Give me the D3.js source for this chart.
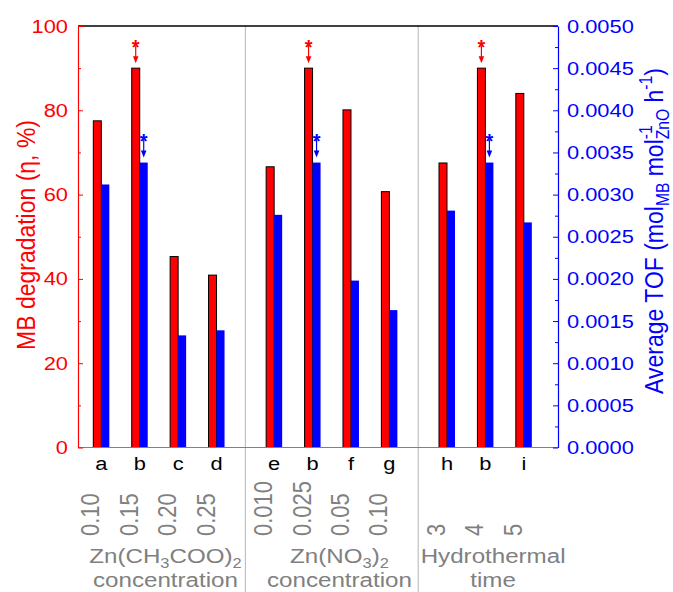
<!DOCTYPE html>
<html lang="en">
<head>
  <meta charset="utf-8">
  <title>MB degradation and TOF</title>
  <script src="https://cdn.jsdelivr.net/npm/d3@7"></script>
  <style>
    body { margin: 0; background: #fff; }
    text { font-family: "Liberation Sans", Arial, sans-serif; }
  </style>
</head>
<body>
  <div id="chart"></div>
<script>
  var w = 673, h = 592;
  var SX = 1.15; // the original text is a bit wider than plain Arial

  // data
  var samples = ["a", "b", "c", "d", "e", "b", "f", "g", "h", "b", "i"];
  var positions = [0, 1, 2, 3, 4.5, 5.5, 6.5, 7.5, 9, 10, 11];
  var conditions = ["0.10", "0.15", "0.20", "0.25", "0.010", "0.025", "0.05", "0.10", "3", "4", "5"];
  var degradation = [77.5, 90, 45.3, 40.9, 66.6, 90, 80.1, 60.7, 67.5, 90, 84.0];
  var tof = [0.00312, 0.00338, 0.00133, 0.00139, 0.00276, 0.00338, 0.00198, 0.00163, 0.00281, 0.00338, 0.00267];
  var degTicks = [0, 20, 40, 60, 80, 100];
  var degMinor = [10, 30, 50, 70, 90];
  var tofTicks = [0, 0.0005, 0.001, 0.0015, 0.002, 0.0025, 0.003, 0.0035, 0.004, 0.0045, 0.005];
  var tofMinor = [0.00025, 0.00075, 0.00125, 0.00175, 0.00225, 0.00275, 0.00325, 0.00375, 0.00425, 0.00475];
  var separators = [3.75, 8.25];
  var groupLabels = [["Zn(CH{_3}COO){_2}", "concentration"], ["Zn(NO{_3}){_2}", "concentration"], ["Hydrothermal", "time"]];
  var groupPos = [1.67, 6.2, 10.2];
  var starred = samples.map(function(s) { return s === "b"; });

  // plot box (window.top is read-only, so no "top" here)
  var pL = 78, pR = 558, pT = 26, pB = 447.5;

  var svg = d3.select("#chart").append("svg")
    .attr("width", w).attr("height", h);

  var x = d3.scaleLinear().domain([-0.607, 11.89]).range([pL, pR]);
  var yL = d3.scaleLinear().domain([0, 100]).range([pB, pT]);
  var yR = d3.scaleLinear().domain([0, 0.005]).range([pB, pT]);

  // text with a horizontal stretch, optional rotation and {_sub} / {^sup} parts
  function label(g, px, py, str, size, color, anchor, rot) {
    var t = g.append("text")
      .attr("transform", "translate(" + px + "," + py + ") scale(" + SX + ",1)" + (rot ? " rotate(" + rot + ")" : ""))
      .attr("font-size", size).attr("fill", color).attr("text-anchor", anchor || "middle");
    var re = /\{([_^])([^}]*)\}/g, last = 0, m, off = 0, prev = null, prevKind = null;
    function seg(txt, kind) {
      var target = kind === "_" ? 0.22 * size : kind === "^" ? -0.4 * size : 0;
      var s = t.append("tspan").text(txt).attr("dy", target - off);
      off = target;
      if (kind) s.attr("font-size", size * 0.68);
      if (kind === "_" && prevKind === "^") s.attr("dx", -prev.node().getComputedTextLength());
      prev = s; prevKind = kind;
    }
    while ((m = re.exec(str))) {
      if (m.index > last) seg(str.slice(last, m.index), null);
      seg(m[2], m[1]);
      last = re.lastIndex;
    }
    if (last < str.length) seg(str.slice(last), null);
    return t;
  }

  // separators between the three groups
  svg.selectAll(".sep").data(separators).enter().append("line")
    .attr("class", "sep")
    .attr("x1", function(d) { return x(d); }).attr("x2", function(d) { return x(d); })
    .attr("y1", pT).attr("y2", h)
    .attr("stroke", "#b4b4b4").attr("stroke-width", 1);

  // bars
  svg.selectAll(".red").data(degradation).enter().append("rect")
    .attr("class", "red")
    .attr("x", function(d, i) { return x(positions[i]) - 8; })
    .attr("y", function(d) { return yL(d); })
    .attr("width", 8)
    .attr("height", function(d) { return yL(0) - yL(d); })
    .attr("fill", "#ff0000").attr("stroke", "#000").attr("stroke-width", 1);

  svg.selectAll(".blue").data(tof).enter().append("rect")
    .attr("class", "blue")
    .attr("x", function(d, i) { return x(positions[i]); })
    .attr("y", function(d) { return yR(d); })
    .attr("width", 8)
    .attr("height", function(d) { return yR(0) - yR(d); })
    .attr("fill", "#0000ff");

  // stars with arrows over the best sample
  function star(cx, barTop, color) {
    svg.append("text").attr("x", cx).attr("y", barTop - 14.5).attr("text-anchor", "middle")
      .attr("font-size", 20).attr("font-weight", "bold").attr("fill", color).text("*");
    svg.append("line").attr("x1", cx).attr("x2", cx).attr("y1", barTop - 23).attr("y2", barTop - 9)
      .attr("stroke", color).attr("stroke-width", 1.2);
    svg.append("path")
      .attr("d", "M" + (cx - 2.8) + "," + (barTop - 12) + "L" + (cx + 2.8) + "," + (barTop - 12) + "L" + cx + "," + (barTop - 5) + "Z")
      .attr("fill", color);
  }
  starred.forEach(function(s, i) {
    if (!s) return;
    star(x(positions[i]) - 4, yL(degradation[i]), "#ff0000");
    star(x(positions[i]) + 4, yR(tof[i]), "#0000ff");
  });

  // frame lines
  svg.append("line").attr("x1", pL).attr("x2", pR).attr("y1", pT).attr("y2", pT)
    .attr("stroke", "#000").attr("stroke-width", 1.5);
  svg.append("line").attr("x1", pL).attr("x2", pR).attr("y1", pB).attr("y2", pB)
    .attr("stroke", "#808080").attr("stroke-width", 1.2);

  // axes
  function styleTicks(g, color) {
    g.select(".domain").attr("stroke", color).attr("stroke-width", 1.2);
    g.selectAll(".tick line").attr("stroke", color);
    g.selectAll(".tick text").each(function() {
      var t = d3.select(this), tx = +t.attr("x");
      t.attr("x", 0).attr("transform", "translate(" + tx + ",0) scale(" + SX + ",1)")
        .attr("fill", color).attr("font-size", 19);
    });
  }
  var gl = svg.append("g").attr("transform", "translate(" + pL + ",0)")
    .call(d3.axisLeft(yL).tickValues(degTicks).tickSize(-5).tickSizeOuter(0).tickPadding(10));
  styleTicks(gl, "#ff0000");
  var glm = svg.append("g").attr("transform", "translate(" + pL + ",0)")
    .call(d3.axisLeft(yL).tickValues(degMinor).tickSize(-3).tickFormat(""));
  glm.select(".domain").remove();
  glm.selectAll(".tick line").attr("stroke", "#ff0000");

  var gr = svg.append("g").attr("transform", "translate(" + pR + ",0)")
    .call(d3.axisRight(yR).tickValues(tofTicks).tickFormat(d3.format(".4f")).tickSize(-5).tickSizeOuter(0).tickPadding(9));
  styleTicks(gr, "#0000ff");
  var grm = svg.append("g").attr("transform", "translate(" + pR + ",0)")
    .call(d3.axisRight(yR).tickValues(tofMinor).tickSize(-3).tickFormat(""));
  grm.select(".domain").remove();
  grm.selectAll(".tick line").attr("stroke", "#0000ff");

  // sample letters and conditions
  samples.forEach(function(s, i) {
    label(svg, x(positions[i]), 470, s, 19, "#000", "middle");
    label(svg, x(positions[i]) - 2, 536, conditions[i], 22, "#808080", "start", -90)
      .attr("dy", "0.35em");
  });

  // group labels
  groupLabels.forEach(function(lines, i) {
    label(svg, x(groupPos[i]), 563, lines[0], 21, "#808080", "middle");
    label(svg, x(groupPos[i]), 587, lines[1], 21, "#808080", "middle");
  });

  // axis titles
  label(svg, 35, 235, "MB degradation (\u03b7, %)", 23, "#ff0000", "middle", -90);
  label(svg, 663, 231, "Average TOF (mol{_MB} mol{^-1}{_ZnO} h{^-1})", 23, "#0000ff", "middle", -90);
</script>
</body>
</html>
